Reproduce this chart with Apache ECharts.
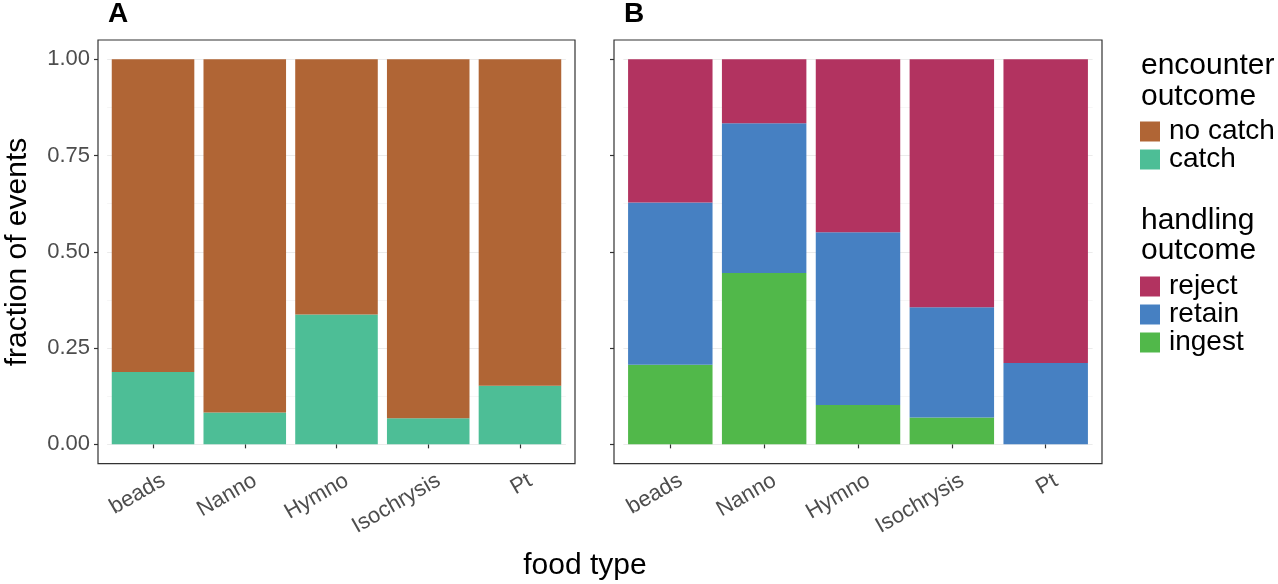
<!DOCTYPE html>
<html>
<head>
<meta charset="utf-8">
<title>food type outcomes</title>
<script src="https://cdn.jsdelivr.net/npm/echarts@6/dist/echarts.min.js"></script>
<style>
  html, body { margin: 0; padding: 0; background: #fff; }
  #main { width: 1278px; height: 584px; }
</style>
</head>
<body>
<div id="main"></div>
<script type="text/javascript">
// food types on the x axis
var foodTypes = ['beads', 'Nanno', 'Hymno', 'Isochrysis', 'Pt'];

// panel A: encounter outcome (fractions)
var catchFrac   = [0.188, 0.083, 0.337, 0.068, 0.152];
var noCatchFrac = [0.812, 0.917, 0.663, 0.932, 0.848];

// panel B: handling outcome
var ingestFrac = [0.207, 0.445, 0.102, 0.070, 0.000];
var retainFrac = [0.421, 0.389, 0.449, 0.286, 0.211];
var rejectFrac = [0.372, 0.166, 0.449, 0.644, 0.789];

var colors = {
    'no catch': '#B06535',
    'catch': '#4DBE96',
    'reject': '#B23360',
    'retain': '#4680C2',
    'ingest': '#51B84A'
};

var FONT = 'Liberation Sans, Arial, Helvetica, sans-serif';
var W = 1278;

// panel frames (ggplot style boxes); data area sits inside with 0.6 band padding
var frames = [
    { l: 98, r: 575, t: 40, b: 463.6 },
    { l: 614, r: 1102, t: 40, b: 463.6 }
];

function dataGrid(f) {
    var unit = (f.r - f.l) / 5.2;
    var padY = (f.b - f.t) * 0.05 / 1.1;
    return {
        left: f.l + 0.1 * unit,
        right: W - (f.r - 0.1 * unit),
        top: f.t + padY,
        bottom: 584 - (f.b - padY),
        xOff: padY,
        yOff: 0.1 * unit
    };
}
var g0 = dataGrid(frames[0]);
var g1 = dataGrid(frames[1]);

function xAxisFor(idx, g) {
    return {
        type: 'category',
        gridIndex: idx,
        data: foodTypes,
        offset: g.xOff,
        axisLine: { show: false },
        axisTick: { show: true, alignWithLabel: true, length: 4, lineStyle: { color: '#333', width: 1.2 } },
        axisLabel: {
            interval: 0,
            rotate: 30,
            margin: 21.5,
            padding: [0, -12, 0, 0],
            fontFamily: FONT,
            fontSize: 22,
            color: '#4D4D4D'
        },
        splitLine: { show: false }
    };
}

function yAxisFor(idx, g, showLabels) {
    return {
        type: 'value',
        gridIndex: idx,
        min: 0,
        max: 1,
        interval: 0.25,
        offset: g.yOff,
        axisLine: { show: false },
        axisTick: { show: true, length: 4, lineStyle: { color: '#333', width: 1.2 } },
        axisLabel: {
            show: showLabels,
            margin: 8,
            fontFamily: FONT,
            fontSize: 22,
            color: '#4D4D4D',
            formatter: function (v) { return v.toFixed(2); }
        },
        minorTick: { show: false, splitNumber: 2 },
        minorSplitLine: { show: true, lineStyle: { color: '#F6F6F6', width: 1 } },
        splitLine: { show: true, lineStyle: { color: '#EBEBEB', width: 1 } }
    };
}

function barSeries(name, values, idx, stack) {
    return {
        name: name,
        type: 'bar',
        xAxisIndex: idx,
        yAxisIndex: idx,
        stack: stack,
        data: values,
        barCategoryGap: '10%',
        itemStyle: { color: colors[name] }
    };
}

var graphics = [];
frames.forEach(function (f) {
    graphics.push({
        type: 'rect',
        shape: { x: f.l, y: f.t, width: f.r - f.l, height: f.b - f.t },
        style: { fill: null, stroke: '#333', lineWidth: 1.2 },
        z: 100
    });
});
graphics.push(
    { type: 'text', x: 108, y: 14, style: { text: 'A', font: 'bold 28px ' + FONT, fill: '#000', verticalAlign: 'middle' } },
    { type: 'text', x: 624, y: 14, style: { text: 'B', font: 'bold 28px ' + FONT, fill: '#000', verticalAlign: 'middle' } },
    { type: 'text', x: 18, y: 252, rotation: Math.PI / 2,
      style: { text: 'fraction of events', font: '30px ' + FONT, fill: '#000', align: 'center', verticalAlign: 'middle' } },
    { type: 'text', x: 585, y: 566,
      style: { text: 'food type', font: '30px ' + FONT, fill: '#000', align: 'center', verticalAlign: 'middle' } },
    { type: 'text', x: 1141, y: 66, style: { text: 'encounter', font: '30px ' + FONT, fill: '#000', verticalAlign: 'middle' } },
    { type: 'text', x: 1141, y: 97, style: { text: 'outcome', font: '30px ' + FONT, fill: '#000', verticalAlign: 'middle' } },
    { type: 'text', x: 1141, y: 221, style: { text: 'handling', font: '30px ' + FONT, fill: '#000', verticalAlign: 'middle' } },
    { type: 'text', x: 1141, y: 251, style: { text: 'outcome', font: '30px ' + FONT, fill: '#000', verticalAlign: 'middle' } }
);

var legendText = { fontFamily: FONT, fontSize: 28, color: '#000', lineHeight: 20, padding: [0, 0, 0, 4] };

var chart = echarts.init(document.getElementById('main'), null, { renderer: 'canvas' });
var option = {
    animation: false,
    backgroundColor: '#fff',
    grid: [
        { left: g0.left, right: g0.right, top: g0.top, bottom: g0.bottom },
        { left: g1.left, right: g1.right, top: g1.top, bottom: g1.bottom }
    ],
    xAxis: [xAxisFor(0, g0), xAxisFor(1, g1)],
    yAxis: [yAxisFor(0, g0, true), yAxisFor(1, g1, false)],
    legend: [
        {
            orient: 'vertical', left: 1140, top: 117.5, padding: 0,
            itemWidth: 20, itemHeight: 20, itemGap: 0, icon: 'rect',
            selectedMode: false,
            data: ['no catch', 'catch'],
            textStyle: legendText
        },
        {
            orient: 'vertical', left: 1140, top: 272.5, padding: 0,
            itemWidth: 20, itemHeight: 20, itemGap: 0, icon: 'rect',
            selectedMode: false,
            data: ['reject', 'retain', 'ingest'],
            textStyle: legendText
        }
    ],
    graphic: graphics,
    series: [
        barSeries('catch', catchFrac, 0, 'enc'),
        barSeries('no catch', noCatchFrac, 0, 'enc'),
        barSeries('ingest', ingestFrac, 1, 'hand'),
        barSeries('retain', retainFrac, 1, 'hand'),
        barSeries('reject', rejectFrac, 1, 'hand')
    ]
};
chart.setOption(option);
</script>
</body>
</html>
